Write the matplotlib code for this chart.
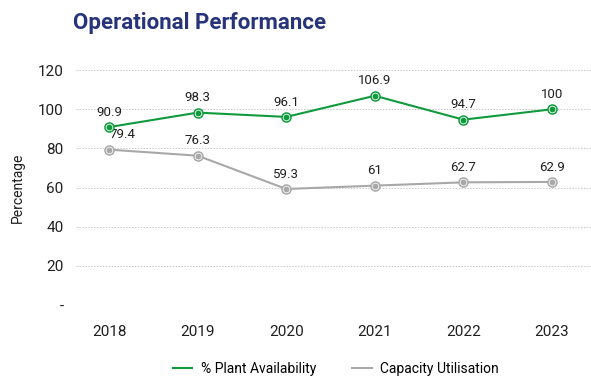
import matplotlib.pyplot as plt
import numpy as np

# data
years = ["2018", "2019", "2020", "2021", "2022", "2023"]
plant_availability = [90.9, 98.3, 96.1, 106.9, 94.7, 100]
capacity_utilisation = [79.4, 76.3, 59.3, 61, 62.7, 62.9]
y_ticks = [0, 20, 40, 60, 80, 100, 120]
y_tick_labels = ["-", "20", "40", "60", "80", "100", "120"]

GREEN = "#109a3e"
GREY = "#a8a8a8"
NAVY = "#27347a"
TEXT = "#1f1f1f"

plt.rcParams["font.family"] = ["Roboto", "DejaVu Sans"]

fig = plt.figure(figsize=(5.91, 3.79), dpi=100)
ax = fig.add_axes([0.129, 0.195, 0.871, 0.62])

x = np.arange(len(years))


def draw_series(values, color, label):
    ax.plot(x, values, color=color, lw=1.5, label=label, zorder=3)
    # ring marker with a solid centre
    ax.plot(x, values, ls="none", marker="o", ms=6.5, mfc="white",
            mec=color, mew=1.1, zorder=4)
    ax.plot(x, values, ls="none", marker="o", ms=3.2, mfc=color,
            mec=color, zorder=5)


draw_series(plant_availability, GREEN, "% Plant Availability")
draw_series(capacity_utilisation, GREY, "Capacity Utilisation")

for i, v in enumerate(plant_availability):
    ax.annotate(f"{v:g}", (x[i], v), xytext=(0, 6), textcoords="offset points",
                ha="center", va="bottom", fontsize=9.5, color=TEXT)
for i, v in enumerate(capacity_utilisation):
    dx = 10 if i == 0 else 0
    ax.annotate(f"{v:g}", (x[i], v), xytext=(dx, 6), textcoords="offset points",
                ha="center", va="bottom", fontsize=9.5, color=TEXT)

ax.set_xlim(-0.37, 5.44)
ax.set_ylim(0, 120)
ax.set_xticks(x)
ax.set_xticklabels(years, fontsize=11, color=TEXT)
ax.set_yticks(y_ticks)
ax.set_yticklabels(y_tick_labels, fontsize=11, color=TEXT)
ax.tick_params(axis="y", length=0, pad=9)
ax.tick_params(axis="x", length=0, pad=14)
ax.set_ylabel("Percentage", fontsize=10, color=TEXT, labelpad=9)

ax.grid(axis="y", color="#c8c8c8", ls=(0, (1.5, 1.5)), lw=0.7)
ax.set_axisbelow(True)
for s in ax.spines.values():
    s.set_visible(False)

fig.text(0.123, 0.940, "Operational Performance", fontsize=16,
         fontweight="bold", color=NAVY, ha="left", va="center")

handles, labels = ax.get_legend_handles_labels()
fig.legend(handles, labels, loc="center", bbox_to_anchor=(0.568, 0.027),
           ncol=2, frameon=False, fontsize=10, handlelength=1.4,
           columnspacing=2.6, handletextpad=0.6)

fig.savefig("out.png", dpi=100, facecolor="white")
